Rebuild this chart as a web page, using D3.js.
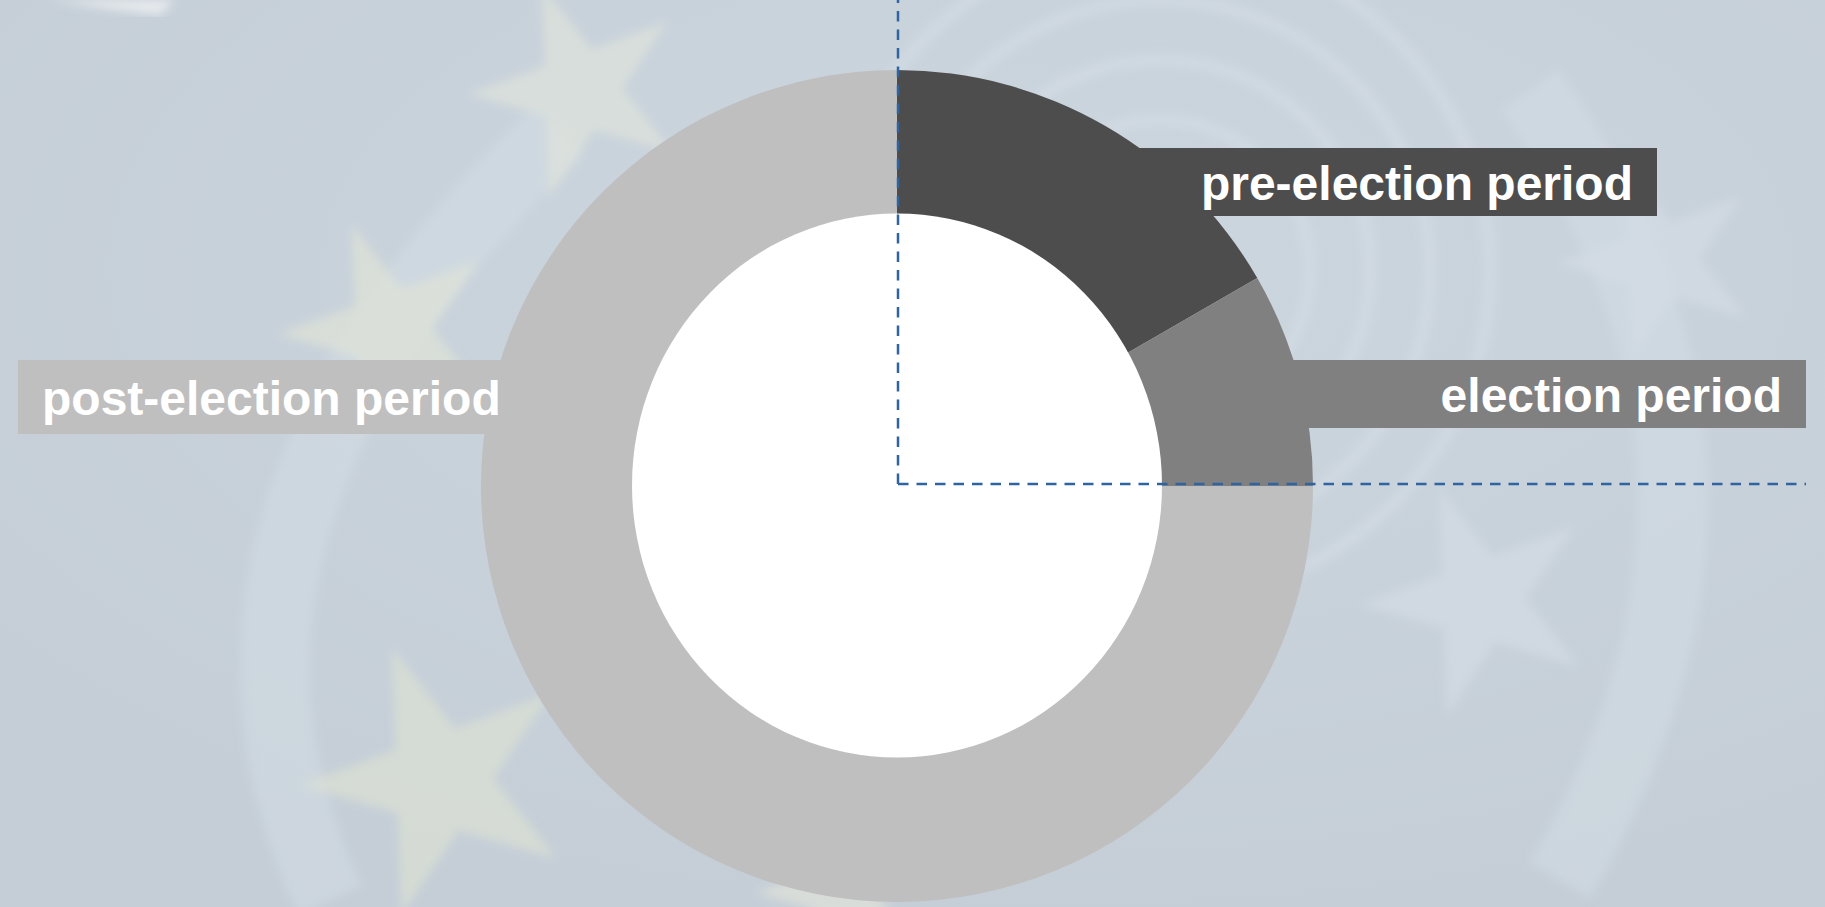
<!DOCTYPE html>
<html>
<head>
<meta charset="utf-8">
<script src="https://cdn.jsdelivr.net/npm/d3@7"></script>
<style>
  html, body { margin: 0; padding: 0; background: #c6cfd8; overflow: hidden; }
  svg { display: block; }
  .label { font-family: "Liberation Sans", Arial, sans-serif; font-weight: bold; fill: #ffffff; }
</style>
</head>
<body>
<div id="chart"></div>
<script>
// phases of the electoral cycle, clockwise from 12 o'clock
const periods = ["pre-election period", "election period", "post-election period"];
const shares = [2, 1, 9];
const periodColors = ["#4d4d4d", "#808080", "#bfbfbf"];

const width = 1825, height = 907;
const cx = 897, cy = 486;
const outerR = 416;
const holeRx = 265, holeRy = 272;

const svg = d3.select('#chart')
    .append('svg')
    .attr('width', width)
    .attr('height', height);

// background: pale blue-grey with faint, blurred emblem and stars
const defs = svg.append('defs');
const grad = defs.append('radialGradient').attr('id', 'bgGrad')
    .attr('cx', '58%').attr('cy', '30%').attr('r', '75%');
grad.append('stop').attr('offset', '0%').attr('stop-color', '#ccd6df');
grad.append('stop').attr('offset', '100%').attr('stop-color', '#c5ced7');
defs.append('filter').attr('id', 'soft')
    .append('feGaussianBlur').attr('stdDeviation', 5);

svg.append('rect').attr('width', width).attr('height', height).attr('fill', 'url(#bgGrad)');

const deco = svg.append('g').attr('id', 'decoG').attr('filter', 'url(#soft)');
// emblem rings
[330, 270, 210, 150].forEach(r => {
    deco.append('circle')
        .attr('cx', 1160).attr('cy', 270).attr('r', r)
        .attr('fill', 'none').attr('stroke', '#d8e0e7')
        .attr('stroke-width', 12).attr('opacity', 0.5);
});
// laurel-ish sweeps
deco.append('path')
    .attr('d', 'M 330 900 Q 150 520 560 130 M 1560 880 Q 1800 470 1530 90')
    .attr('fill', 'none').attr('stroke', '#d3dce4').attr('stroke-width', 70).attr('opacity', 0.55);
// stars
const starPos = [[580, 90, 14000, '#e2e6da'], [390, 330, 14000, '#e2e6d6'], [440, 780, 22000, '#e0e4d2'],
                 [1480, 600, 16000, '#d6dee6'], [1660, 260, 12000, '#d6dee6'], [840, 890, 8000, '#e4e6d8']];
const star = d3.symbol().type(d3.symbolStar);
deco.selectAll('path.star')
    .data(starPos)
    .join('path')
    .attr('class', 'star')
    .attr('d', d => star.size(d[2])())
    .attr('transform', d => `translate(${d[0]},${d[1]}) rotate(-20)`)
    .attr('fill', d => d[3])
    .attr('opacity', 0.6);
// paper corner at top left
svg.append('path')
    .attr('d', 'M 50 0 L 175 0 L 160 15 L 110 9 Z')
    .attr('fill', '#eceff1').attr('opacity', 0.85).attr('filter', 'url(#soft)');

// label boxes sit behind the ring
const labelLayout = [
    {x0: cx, x1: 1657, y0: 148, y1: 216, anchor: 'end', tx: 1633, ty: 200},
    {x0: cx, x1: 1806, y0: 360, y1: 428, anchor: 'end', tx: 1782, ty: 412},
    {x0: 18, x1: cx, y0: 360, y1: 434, anchor: 'start', tx: 42, ty: 415}
];

svg.append('g')
    .attr('id', 'boxG')
    .selectAll('rect')
    .data(periods)
    .join('rect')
    .attr('x', (d, i) => labelLayout[i].x0)
    .attr('y', (d, i) => labelLayout[i].y0)
    .attr('width', (d, i) => labelLayout[i].x1 - labelLayout[i].x0)
    .attr('height', (d, i) => labelLayout[i].y1 - labelLayout[i].y0)
    .attr('fill', (d, i) => periodColors[i]);

// ring: pie slices with a white hole on top
const pie = d3.pie().sort(null).value(d => d);
const arc = d3.arc().innerRadius(0).outerRadius(outerR);

const ring = svg.append('g')
    .attr('id', 'ringG')
    .attr('transform', `translate(${cx},${cy})`);

ring.selectAll('path')
    .data(pie(shares))
    .join('path')
    .attr('d', arc)
    .attr('fill', (d, i) => periodColors[i]);

ring.append('ellipse')
    .attr('cx', 0).attr('cy', -0.5)
    .attr('rx', holeRx).attr('ry', holeRy)
    .attr('fill', '#ffffff');

svg.append('g')
    .attr('id', 'textG')
    .selectAll('text')
    .data(periods)
    .join('text')
    .attr('class', 'label')
    .attr('x', (d, i) => labelLayout[i].tx)
    .attr('y', (d, i) => labelLayout[i].ty)
    .attr('text-anchor', (d, i) => labelLayout[i].anchor)
    .attr('font-size', 48)
    .text(d => d);

// dashed guide lines
const guideY = 484;
const guides = svg.append('g').attr('id', 'guideG')
    .attr('stroke', '#2f64a0').attr('stroke-width', 2.5)
    .attr('stroke-dasharray', '10.5,8').attr('fill', 'none');
guides.append('line').attr('x1', cx + 1).attr('y1', guideY).attr('x2', cx + 1).attr('y2', 0);
guides.append('line').attr('x1', cx + 1).attr('y1', guideY).attr('x2', 1806).attr('y2', guideY);
</script>
</body>
</html>
